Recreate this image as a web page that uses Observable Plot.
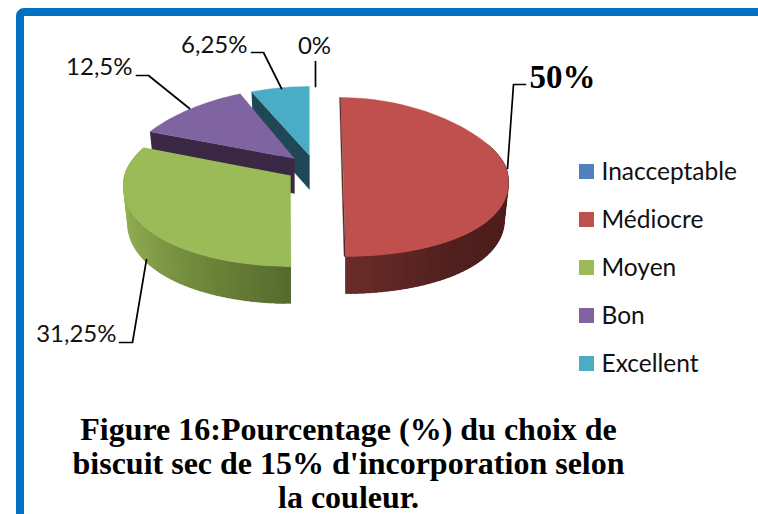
<!DOCTYPE html>
<html><head><meta charset="utf-8">
<script src="https://cdn.jsdelivr.net/npm/d3@7"></script>
<script src="https://cdn.jsdelivr.net/npm/@observablehq/plot@0.6"></script>
<style>html,body{margin:0;padding:0;background:#fff;overflow:hidden}</style>
</head><body><div id="chart"></div>
<script>
const categories = ["Inacceptable","Médiocre","Moyen","Bon","Excellent"];
const values = [0,50,31.25,12.5,6.25];
const valueLabels = ["0%","50%","31,25%","12,5%","6,25%"];
const topColors = ["#4F81BD","#C0504D","#9BBB59","#8064A2","#4BACC6"];
const titleLines = ["Figure 16:Pourcentage (%) du choix de","biscuit sec de 15% d'incorporation selon","la couleur."];

// Projection of each exploded slice (perspective ellipse), by category
const proj = {
  "Médiocre":{cx:342.5,cy:167,rx:163,far:70,near:89,d:37,skew:2.5,k:0.165},
  "Moyen":{cx:290,cy:175,rx:166,far:73,near:91,d:37,skew:0.5,k:0.12},
  "Bon":{cx:294,cy:158,rx:167,far:70,near:89,d:35,skew:0,k:0.165},
  "Excellent":{cx:309,cy:155,rx:167,far:69,near:89,d:34,skew:0,k:0.1}
};
const rad = d => d*Math.PI/180;
function topPt(p,deg){const c=Math.cos(rad(deg)),s=Math.sin(rad(deg));
  return [p.cx+p.rx*s*(1-p.k*c)-p.skew*c, p.cy-(c>0?p.far:p.near)*c];}
function botPt(p,deg){const c=Math.cos(rad(deg)),s=Math.sin(rad(deg));
  return [p.cx+0.975*p.rx*s*(1-p.k*c)-p.skew*c, p.cy+p.d-(c>0?p.far:p.near)*c];}

// Slice angles from the values
const total = d3.sum(values);
let acc = 0;
const slices = categories.map((c,i)=>{const a0=acc/total*360; acc+=values[i]; return {c,i,a0,a1:acc/total*360};});

const polys = [];
let pid = 0;
function poly(points,color){const id=pid++; points.forEach(([x,y])=>polys.push({x,y,id,color}));}
function arc(p,a0,a1,f){const n=Math.max(2,Math.ceil((a1-a0)/2));return d3.range(n+1).map(j=>f(p,a0+(a1-a0)*j/n));}
function drawTop(s){const p=proj[s.c];poly([[p.cx,p.cy],...arc(p,s.a0,s.a1,topPt)],topColors[s.i]);}

const S = Object.fromEntries(slices.map(s=>[s.c,s]));
{const s=S["Excellent"],p=proj[s.c];
 poly([topPt(p,s.a0),[p.cx,p.cy],[p.cx,p.cy+p.d],botPt(p,s.a0)],"#1F4756");drawTop(s);}
{const s=S["Bon"],p=proj[s.c];
 poly([topPt(p,s.a0),[p.cx,p.cy],[p.cx,p.cy+p.d],botPt(p,s.a0)],"#3A2845");drawTop(s);}
// Rim with shading: slats overlap the next one so no seams show
function rim(s,from,to,ramp){const p=proj[s.c];const n=Math.ceil((to-from)/2);
  for(let j=0;j<n;j++){const a=from+(to-from)*j/n,b=Math.min(to,from+(to-from)*(j+2.5)/n);
    poly(arc(p,a,b,topPt).concat(arc(p,a,b,botPt).reverse()),ramp((j+.5)/n));}}
const greenRamp=d3.piecewise(d3.interpolateRgb,["#566A2E","#6D8639","#86A24B","#93B253","#93B253"]);
const redRamp=d3.piecewise(d3.interpolateRgb,["#4C1D1C","#4C1D1C","#4F1F1E","#6B2C2A"]);
rim(S["Moyen"],180,292,greenRamp);
drawTop(S["Moyen"]);
rim(S["Médiocre"],70,180,redRamp);
drawTop(S["Médiocre"]);
{const p=proj["Médiocre"];const a=topPt(p,0),b=topPt(p,180);
 poly([a,b,[b[0]-1.5,b[1]],[a[0]-1,a[1]]],"#5A2A28");}

// Leader lines
const leaders = [
 {k:"0%",pts:[[315,61],[315,86]]},
 {k:"6,25%",pts:[[251,52],[263,52],[281,88]]},
 {k:"12,5%",pts:[[136,75],[148,75],[189,108]]},
 {k:"31,25%",pts:[[119,342],[132,342],[146,259]]},
 {k:"50%",pts:[[525,84],[513,84],[507,168]]}
].flatMap(l=>l.pts.map(([x,y])=>({x,y,k:l.k})));

const endLabels = [
 {t:valueLabels[4],x:247,y:45},
 {t:valueLabels[3],x:132,y:67},
 {t:valueLabels[2],x:116,y:334}
];
const legend = categories.map((c,i)=>({c,color:topColors[i],y:172+48*i}));
const titleRows = titleLines.map((t,i)=>({t,y:439+34*i}));

const chart = Plot.plot({
  width:758,height:514,margin:0,
  x:{domain:[0,758],range:[0,758],axis:null},
  y:{domain:[0,514],range:[0,514],axis:null},
  color:{type:"identity"},
  style:{background:"#fff"},
  marks:[
    Plot.rect([{x1:20,x2:830,y1:12,y2:600}],{x1:"x1",x2:"x2",y1:"y1",y2:"y2",fill:"none",stroke:"#0070C0",strokeWidth:8,rx:4}),
    Plot.line(polys,{x:"x",y:"y",z:"id",fill:"color",stroke:"color",strokeWidth:0.3}),
    Plot.line(leaders,{x:"x",y:"y",z:"k",stroke:"#000",strokeWidth:1.7}),
    Plot.text(endLabels,{x:"x",y:"y",text:"t",textAnchor:"end",fontFamily:"Lato",fontSize:24,fill:"#111"}),
    Plot.text([valueLabels[0]],{x:()=>314,y:()=>46,text:d=>d,textAnchor:"middle",fontFamily:"Lato",fontSize:24,fill:"#111"}),
    Plot.text([valueLabels[1]],{x:()=>529,y:()=>77,text:d=>d,textAnchor:"start",fontFamily:"Liberation Serif",fontWeight:"bold",fontSize:33,fill:"#000"}),
    Plot.rect(legend,{x1:()=>579,x2:()=>594,y1:d=>d.y-8,y2:d=>d.y+7,fill:"color"}),
    Plot.text(legend,{x:()=>601,y:"y",text:"c",textAnchor:"start",fontFamily:"Lato",fontSize:24.5,fill:"#111"}),
    Plot.text(titleRows,{x:()=>348,y:"y",text:"t",textAnchor:"middle",lineAnchor:"bottom",fontFamily:"Liberation Serif",fontWeight:"bold",fontSize:32,fill:"#000"})
  ]
});
document.getElementById("chart").append(chart);
</script></body></html>
